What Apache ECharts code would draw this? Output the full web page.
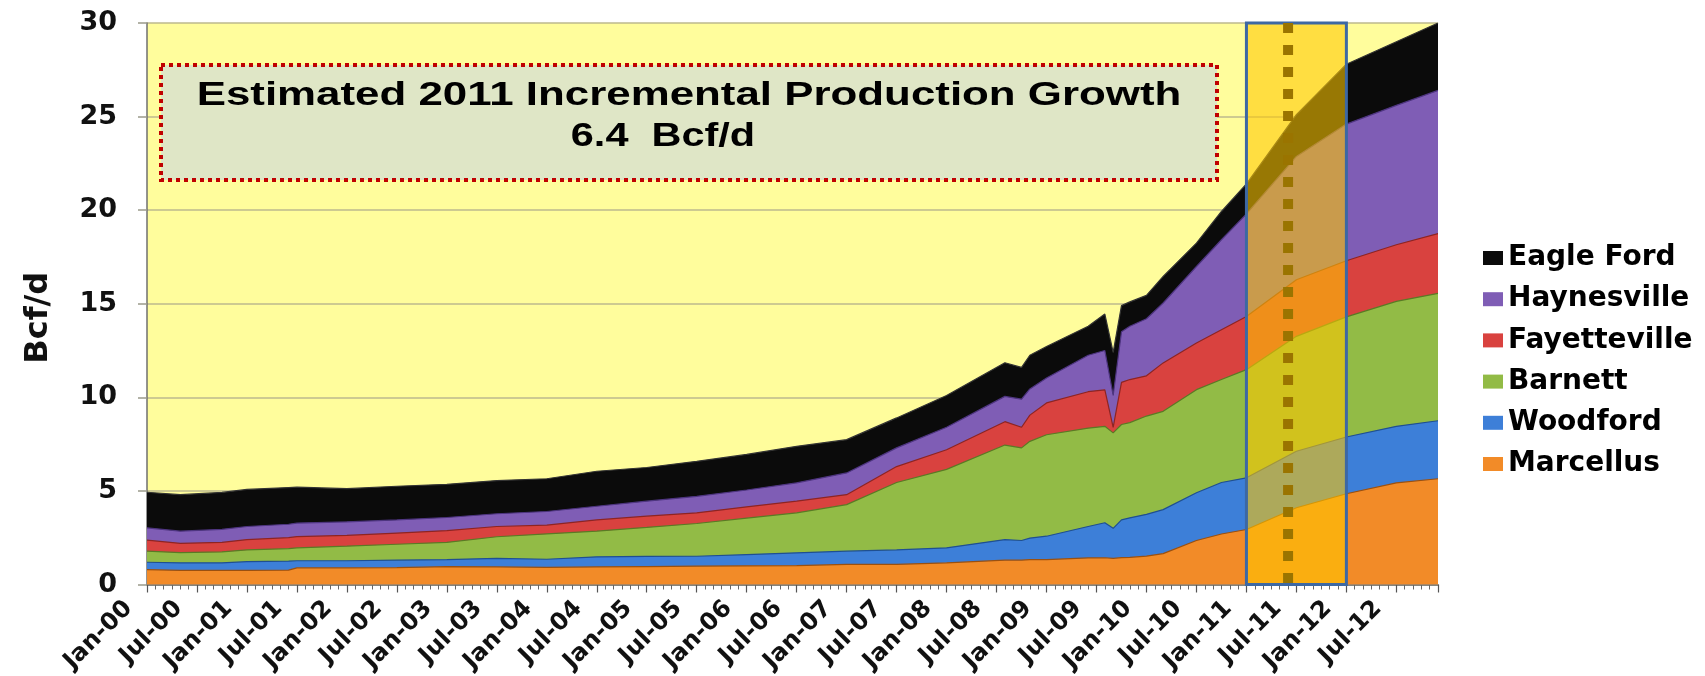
<!DOCTYPE html>
<html>
<head>
<meta charset="utf-8">
<script src="https://cdn.jsdelivr.net/npm/echarts@6/dist/echarts.min.js"></script>
<style>
html,body{margin:0;padding:0;background:#fff;}
#chart{width:1705px;height:676px;}
</style>
</head>
<body>
<div id="chart"></div>
<script>
// Month index (0 = Jan-00) of each sampled point
const months = [0,4,9,12,17,18,24,30,36,42,48,54,60,66,72,78,84,90,96,103,105,106,108,113,115,116,117,118,120,122,126,129,132,138,144,150,155];
// Tick labels every 6 months
const tickLabels = ['Jan-00','Jul-00','Jan-01','Jul-01','Jan-02','Jul-02','Jan-03','Jul-03','Jan-04','Jul-04','Jan-05','Jul-05','Jan-06','Jul-06','Jan-07','Jul-07','Jan-08','Jul-08','Jan-09','Jul-09','Jan-10','Jul-10','Jan-11','Jul-11','Jan-12','Jul-12'];
// Series values (Bcf/d), stacked bottom to top
const marcellus    = [.80,.75,.76,.76,.77,.89,.89,.90,.95,.94,.92,.94,.96,.98,1.00,1.01,1.07,1.07,1.16,1.30,1.30,1.33,1.33,1.42,1.43,1.40,1.44,1.45,1.52,1.65,2.35,2.70,2.94,4.10,4.85,5.43,5.65];
const woodford     = [.39,.41,.40,.46,.48,.38,.38,.40,.38,.46,.43,.54,.54,.53,.60,.68,.71,.78,.80,1.10,1.05,1.15,1.25,1.68,1.87,1.60,2.01,2.11,2.23,2.35,2.55,2.75,2.76,3.02,3.03,3.02,3.10];
const barnett      = [.59,.54,.58,.63,.67,.69,.78,.85,.92,1.15,1.35,1.37,1.55,1.75,1.95,2.14,2.49,3.60,4.19,5.05,4.95,5.17,5.42,5.25,5.15,5.10,5.10,5.09,5.25,5.25,5.51,5.50,5.78,6.14,6.42,6.68,6.80];
const fayetteville = [.59,.50,.51,.55,.58,.60,.57,.60,.63,.55,.47,.60,.60,.57,.60,.62,.53,.85,1.05,1.25,1.10,1.40,1.70,1.95,1.95,.30,2.25,2.30,2.15,2.59,2.49,2.66,2.84,3.02,3.00,3.02,3.20];
const haynesville  = [.66,.65,.70,.70,.72,.72,.73,.70,.70,.68,.73,.73,.80,.88,.90,.98,1.16,1.00,1.20,1.35,1.50,1.40,1.33,1.95,2.10,1.70,2.70,2.85,3.05,3.20,4.09,4.81,5.48,6.59,7.30,7.45,7.65];
const eagleFord    = [1.90,1.95,1.97,1.98,1.96,1.92,1.77,1.80,1.77,1.77,1.75,1.87,1.80,1.87,1.90,1.95,1.78,1.60,1.70,1.80,1.70,1.80,1.69,1.55,1.95,2.30,1.40,1.30,1.25,1.42,1.25,1.51,1.60,2.23,3.20,3.40,3.60];
const seriesNames  = ['Marcellus','Woodford','Barnett','Fayetteville','Haynesville','Eagle Ford'];
const legendOrder  = ['Eagle Ford','Haynesville','Fayetteville','Barnett','Woodford','Marcellus'];
// Highlighted period (month indices) and marker month
const highlightStart = 132, highlightEnd = 144, markerMonth = 137;
const annotationLines = ['Estimated 2011 Incremental Production Growth', '6.4  Bcf/d'];

const seriesValues = [marcellus, woodford, barnett, fayetteville, haynesville, eagleFord];
const colors = ['#F28B28','#3D7FD8','#92BB46','#D9423F','#7F5DB5','#0B0B0B'];
const edgeColors = ['#9a5010','#1f4f91','#5a7a25','#8e2422','#4e3580','#333333'];

// cumulative tops (stack built from the series arrays)
const cumulative = [];
let running = months.map(() => 0);
seriesValues.forEach(arr => {
  running = running.map((r, i) => +(r + arr[i]).toFixed(3));
  cumulative.push(running);
});

const chart = echarts.init(document.getElementById('chart'), null, {renderer: 'canvas'});
const FONT = 'DejaVu Sans';

const series = [];
for (let k = seriesNames.length - 1; k >= 0; k--) {
  series.push({
    name: seriesNames[k],
    type: 'line',
    data: months.map((m, i) => [m, cumulative[k][i]]),
    showSymbol: false,
    symbol: 'none',
    smooth: false,
    lineStyle: {width: 1.2, color: edgeColors[k]},
    itemStyle: {color: colors[k]},
    areaStyle: {color: colors[k], opacity: 1, origin: 'start'},
    emphasis: {disabled: true},
    z: 2
  });
}

// highlight box for 2011
series.push({
  name: '_highlight',
  type: 'line',
  data: [],
  silent: true,
  z: 10,
  markArea: {
    silent: true,
    z: 10,
    itemStyle: {color: 'rgba(255,200,0,0.58)', borderColor: '#3D68A3', borderWidth: 3},
    data: [[{coord: [highlightStart, 0]}, {coord: [highlightEnd, 30]}]]
  }
});
// dotted marker line
series.push({
  name: '_marker',
  type: 'line',
  data: [[markerMonth, 30], [markerMonth, 0]],
  silent: true,
  showSymbol: false,
  symbol: 'none',
  z: 12,
  lineStyle: {color: '#9A7400', width: 10, type: [10, 12], cap: 'butt'}
});

const option = {
  animation: false,
  backgroundColor: '#ffffff',
  grid: {left: 147, right: 267, top: 23, bottom: 91, show: true, backgroundColor: '#FFFD9C', borderWidth: 0},
  legend: {
    data: legendOrder,
    orient: 'vertical',
    left: 1478,
    top: 238,
    itemWidth: 20,
    itemHeight: 14,
    itemGap: 11.2,
    icon: 'rect',
    textStyle: {fontFamily: FONT, fontWeight: 'bold', fontSize: 28, color: '#000', lineHeight: 30}
  },
  xAxis: {
    type: 'value',
    min: 0,
    max: 155,
    interval: 6,
    axisLine: {show: true, lineStyle: {color: '#6f6f6f', width: 1.5}},
    axisTick: {show: true, length: 8, lineStyle: {color: '#555', width: 1.2}},
    minorTick: {show: true, splitNumber: 6, length: 5, lineStyle: {color: '#666', width: 1}},
    splitLine: {show: false},
    axisLabel: {
      rotate: 45,
      margin: 2,
      padding: [0, 26, 0, 0],
      fontFamily: FONT, fontWeight: 'bold', fontSize: 24, color: '#111',
      showMaxLabel: false,
      formatter: function (v) {
        if (v % 6 !== 0) return '';
        const i = v / 6;
        return i < tickLabels.length ? tickLabels[i] : '';
      }
    }
  },
  yAxis: {
    type: 'value',
    min: 0,
    max: 30,
    interval: 5,
    name: 'Bcf/d',
    nameLocation: 'middle',
    nameGap: 92,
    nameTextStyle: {fontFamily: FONT, fontWeight: 'bold', fontSize: 32, color: '#111', padding: [0, 28, 0, 0]},
    axisLine: {show: true, lineStyle: {color: '#6f6f6f', width: 1.5}},
    axisTick: {show: true, length: 9, lineStyle: {color: '#9a9a8a', width: 1.5}},
    splitLine: {show: true, lineStyle: {color: '#BDB98E', width: 1.5}},
    axisLabel: {margin: 30, fontFamily: FONT, fontWeight: 'bold', fontSize: 27, color: '#111'}
  },
  graphic: [
    {
      type: 'rect',
      shape: {x: 161, y: 65, width: 1056, height: 115},
      style: {fill: '#DFE6C6', stroke: '#C00000', lineWidth: 4, lineDash: [4, 4]},
      z: 20
    },
    {
      type: 'text',
      x: 689, y: 96,
      scaleX: 1.29,
      style: {text: annotationLines[0], font: 'bold 34px "Liberation Sans"', fill: '#000', textAlign: 'center', textVerticalAlign: 'middle'},
      z: 21
    },
    {
      type: 'text',
      x: 663, y: 137,
      scaleX: 1.22,
      style: {text: annotationLines[1], font: 'bold 34px "Liberation Sans"', fill: '#000', textAlign: 'center', textVerticalAlign: 'middle'},
      z: 21
    }
  ],
  series: series
};
chart.setOption(option);
</script>
</body>
</html>
